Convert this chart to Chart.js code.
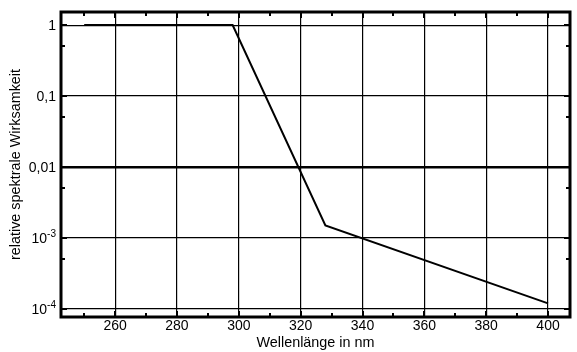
<!DOCTYPE html>
<html>
<head>
<meta charset="utf-8">
<script src="https://cdn.jsdelivr.net/npm/chart.js@4/dist/chart.umd.min.js"></script>
<style>
  html, body { margin: 0; padding: 0; background: #fff; }
  #wrap { width: 577px; height: 352px; }
</style>
</head>
<body>
<div id="wrap"><canvas id="c"></canvas></div>
<script>
// Wirkungsspektrum (Wellenlänge in nm -> relative spektrale Wirksamkeit)
var wavelength = [250, 298, 328, 400];
var efficacy = [1, 1, 0.0015, 0.00012];

var xMajor = [260, 280, 300, 320, 340, 360, 380, 400];
var xMinor = [250, 270, 290, 310, 330, 350, 370, 390];
var yMajor = [1, 0.1, 0.01, 0.001, 0.0001];
var yMinor = [0.5, 0.05, 0.005, 0.0005];
var yLabels = [["1", ""], ["0,1", ""], ["0,01", ""], ["10", "-3"], ["10", "-4"]];

var FONT = "Liberation Sans, Arial, sans-serif";

var decorPlugin = {
  id: "decor",
  afterDatasetsDraw: function(chart) {
    var ctx = chart.ctx;
    var a = chart.chartArea;
    var xs = chart.scales.x, ys = chart.scales.y;
    ctx.save();
    ctx.strokeStyle = "#000";
    ctx.fillStyle = "#000";

    // minor ticks (inward)
    ctx.lineWidth = 2;
    xMinor.forEach(function(v) {
      var px = Math.round(xs.getPixelForValue(v));
      ctx.beginPath();
      ctx.moveTo(px, a.bottom); ctx.lineTo(px, a.bottom - 4);
      ctx.moveTo(px, a.top); ctx.lineTo(px, a.top + 4);
      ctx.stroke();
    });
    yMinor.forEach(function(v) {
      var py = Math.round(ys.getPixelForValue(v));
      ctx.beginPath();
      ctx.moveTo(a.left, py); ctx.lineTo(a.left + 4, py);
      ctx.moveTo(a.right, py); ctx.lineTo(a.right - 4, py);
      ctx.stroke();
    });
    // major ticks (inward, a bit longer)
    xMajor.forEach(function(v) {
      var px = Math.round(xs.getPixelForValue(v));
      ctx.beginPath();
      ctx.moveTo(px, a.bottom); ctx.lineTo(px, a.bottom - 6);
      ctx.moveTo(px, a.top); ctx.lineTo(px, a.top + 6);
      ctx.stroke();
    });
    yMajor.forEach(function(v) {
      var py = Math.round(ys.getPixelForValue(v));
      ctx.beginPath();
      ctx.moveTo(a.left, py); ctx.lineTo(a.left + 6, py);
      ctx.moveTo(a.right, py); ctx.lineTo(a.right - 6, py);
      ctx.stroke();
    });

    // frame
    ctx.lineWidth = 3;
    ctx.strokeRect(a.left, a.top, a.right - a.left, a.bottom - a.top);

    // x tick labels
    ctx.font = "14px " + FONT;
    ctx.textAlign = "center";
    ctx.textBaseline = "middle";
    xMajor.forEach(function(v) {
      ctx.fillText(String(v), xs.getPixelForValue(v), a.bottom + 9);
    });

    // y tick labels with superscript exponent
    ctx.textBaseline = "alphabetic";
    yMajor.forEach(function(v, i) {
      var py = ys.getPixelForValue(v);
      var base = yLabels[i][0], sup = yLabels[i][1];
      var right = a.left - 5;
      ctx.font = "10px " + FONT;
      var wSup = sup ? ctx.measureText(sup).width : 0;
      ctx.font = "14px " + FONT;
      ctx.textAlign = "right";
      ctx.fillText(base, right - wSup, py + 5);
      if (sup) {
        ctx.font = "10px " + FONT;
        ctx.textAlign = "left";
        ctx.fillText(sup, right - wSup, py - 1);
      }
    });

    // axis titles
    ctx.font = "14.4px " + FONT;
    ctx.textAlign = "center";
    ctx.textBaseline = "middle";
    ctx.fillText("Wellenlänge in nm", (a.left + a.right) / 2, 343);
    ctx.translate(16, (a.top + a.bottom) / 2);
    ctx.rotate(-Math.PI / 2);
    ctx.fillText("relative spektrale Wirksamkeit", 0, 0);
    ctx.restore();
  }
};

new Chart(document.getElementById("c"), {
  type: "line",
  data: {
    datasets: [{
      data: wavelength.map(function(w, i) { return { x: w, y: efficacy[i] }; }),
      borderColor: "#000",
      borderWidth: 2,
      pointRadius: 0,
      tension: 0,
      fill: false
    }]
  },
  options: {
    responsive: true,
    maintainAspectRatio: false,
    animation: false,
    layout: { padding: { left: 61, top: 12, right: 7, bottom: 35 } },
    plugins: { legend: { display: false }, tooltip: { enabled: false } },
    scales: {
      x: {
        type: "linear",
        min: 242.5,
        max: 407.1,
        afterBuildTicks: function(s) { s.ticks = xMajor.map(function(v) { return { value: v }; }); },
        ticks: { display: false },
        border: { display: false },
        grid: { color: "#000", lineWidth: 1.2, drawTicks: false }
      },
      y: {
        type: "logarithmic",
        min: 0.000077,
        max: 1.53,
        afterBuildTicks: function(s) { s.ticks = yMajor.map(function(v) { return { value: v }; }); },
        ticks: { display: false },
        border: { display: false },
        grid: {
          color: "#000",
          drawTicks: false,
          lineWidth: function(c) { return c.tick && c.tick.value === 0.01 ? 2.5 : 1.2; }
        }
      }
    }
  },
  plugins: [decorPlugin]
});
</script>
</body>
</html>
